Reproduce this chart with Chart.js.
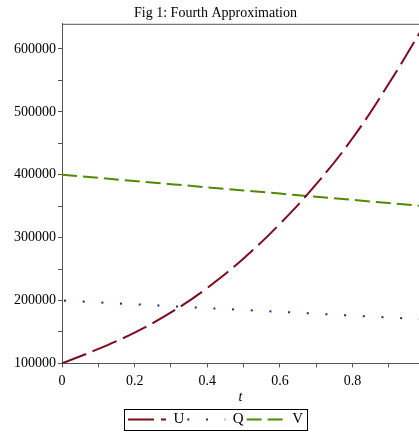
<!DOCTYPE html>
<html>
<head>
<meta charset="utf-8">
<script src="https://cdn.jsdelivr.net/npm/chart.js@4/dist/chart.umd.min.js"></script>
<style>
  html, body { margin: 0; padding: 0; background: #fff; }
  #wrap { width: 419px; height: 432px; }
</style>
</head>
<body>
<div id="wrap"><canvas id="approx-chart"></canvas></div>
<script>
// values, t in steps of 0.1
const tValues = [0, 0.1, 0.2, 0.3, 0.4, 0.5, 0.6, 0.7, 0.8, 0.9, 1.0];
const uValues = [100000, 123000, 149000, 181000, 220000, 267000, 322000, 385000, 458000, 545000, 640000];
const qValues = [200000, 197000, 194000, 191000, 188000, 185000, 182000, 179000, 176000, 173000, 170000];
const vValues = [400000, 395000, 390000, 385000, 380000, 375000, 370000, 365000, 360000, 355000, 350000];

// tick positions: labelled every 0.2 / 100000, plain marks in between
const xTicks = [0, 0.1, 0.2, 0.3, 0.4, 0.5, 0.6, 0.7, 0.8, 0.9];
const xTickLabels = ['0', '', '0.2', '', '0.4', '', '0.6', '', '0.8', ''];
const yTicks = [100000, 150000, 200000, 250000, 300000, 350000, 400000, 450000, 500000, 550000, 600000];
const yTickLabels = ['100000', '', '200000', '', '300000', '', '400000', '', '500000', '', '600000'];

const serif = 'Liberation Serif, Times New Roman, serif';

function toPoints(ys) {
    return tValues.map((t, i) => ({ x: t, y: ys[i] }));
}

// box round the legend and the top edge of the frame
const framePlugin = {
    id: 'frame',
    afterDraw(chart) {
        const ctx = chart.ctx;
        const area = chart.chartArea;
        ctx.save();
        ctx.strokeStyle = '#555';
        ctx.lineWidth = 1;
        ctx.beginPath();
        ctx.moveTo(area.left, area.top + 0.5);
        ctx.lineTo(area.right, area.top + 0.5);
        ctx.stroke();

        const boxes = chart.legend.legendHitBoxes;
        if (boxes && boxes.length) {
            const first = boxes[0];
            const last = boxes[boxes.length - 1];
            const x0 = Math.round(first.left - 4) + 0.5;
            const x1 = Math.round(last.left + last.width + 4) + 0.5;
            const y0 = Math.round(first.top - 3) + 0.5;
            const y1 = Math.round(first.top + first.height + 3) + 0.5;
            ctx.strokeStyle = '#000';
            ctx.strokeRect(x0, y0, x1 - x0, y1 - y0);
        }
        ctx.restore();
    }
};

const ctx = document.getElementById('approx-chart').getContext('2d');

let chart = new Chart(ctx, {
    type: 'line',
    data: {
        datasets: [{
            label: 'U',
            data: toPoints(uValues),
            borderColor: '#7d0a1e',
            borderWidth: 2,
            borderDash: [26, 7],
            pointRadius: 0,
            pointStyle: 'line',
            tension: 0.4,
            fill: false
        }, {
            label: 'Q',
            data: toPoints(qValues),
            borderColor: '#1c2a8c',
            borderWidth: 2,
            borderDash: [2, 16.7],
            borderDashOffset: -2,
            pointRadius: 0,
            pointStyle: 'line',
            fill: false
        }, {
            label: 'V',
            data: toPoints(vValues),
            borderColor: '#4f8a00',
            borderWidth: 2,
            borderDash: [15, 6],
            pointRadius: 0,
            pointStyle: 'line',
            fill: false
        }]
    },
    options: {
        responsive: true,
        maintainAspectRatio: false,
        animation: false,
        layout: { padding: { left: 12, right: 0, top: 0, bottom: -5 } },
        plugins: {
            title: {
                display: true,
                text: 'Fig 1: Fourth Approximation',
                color: '#000',
                font: { family: serif, size: 14, weight: 'normal' },
                padding: { top: 5, bottom: 2 }
            },
            legend: {
                position: 'bottom',
                labels: {
                    usePointStyle: true,
                    pointStyleWidth: 38,
                    boxHeight: 10,
                    padding: 3,
                    color: '#000',
                    font: { family: serif, size: 15 },
                    generateLabels(chart) {
                        const items = Chart.defaults.plugins.legend.labels.generateLabels(chart);
                        items.forEach((item) => {
                            const ds = chart.data.datasets[item.datasetIndex];
                            item.lineDash = ds.borderDash;
                            item.strokeStyle = ds.borderColor;
                            item.lineWidth = 2;
                        });
                        return items;
                    }
                }
            },
            tooltip: { enabled: false }
        },
        scales: {
            x: {
                type: 'linear',
                min: 0,
                max: 0.983,
                border: { color: '#555', width: 1 },
                grid: { drawOnChartArea: false, tickLength: 4, color: '#555' },
                title: {
                    display: true,
                    text: 't',
                    color: '#000',
                    font: { family: serif, size: 14, style: 'italic' },
                    padding: { top: -7, bottom: 3 }
                },
                afterBuildTicks: (scale) => {
                    scale.ticks = xTicks.map((v) => ({ value: v }));
                },
                ticks: {
                    autoSkip: false,
                    maxRotation: 0,
                    color: '#000',
                    padding: 6,
                    font: { family: serif, size: 14 },
                    callback: (value, index) => xTickLabels[index]
                }
            },
            y: {
                type: 'linear',
                min: 100000,
                max: 640000,
                border: { color: '#555', width: 1 },
                grid: { drawOnChartArea: false, tickLength: 4, color: '#555' },
                afterBuildTicks: (scale) => {
                    scale.ticks = yTicks.map((v) => ({ value: v }));
                },
                ticks: {
                    autoSkip: false,
                    color: '#000',
                    padding: 2,
                    font: { family: serif, size: 14 },
                    callback: (value, index) => yTickLabels[index]
                }
            }
        }
    },
    plugins: [framePlugin]
});
</script>
</body>
</html>
